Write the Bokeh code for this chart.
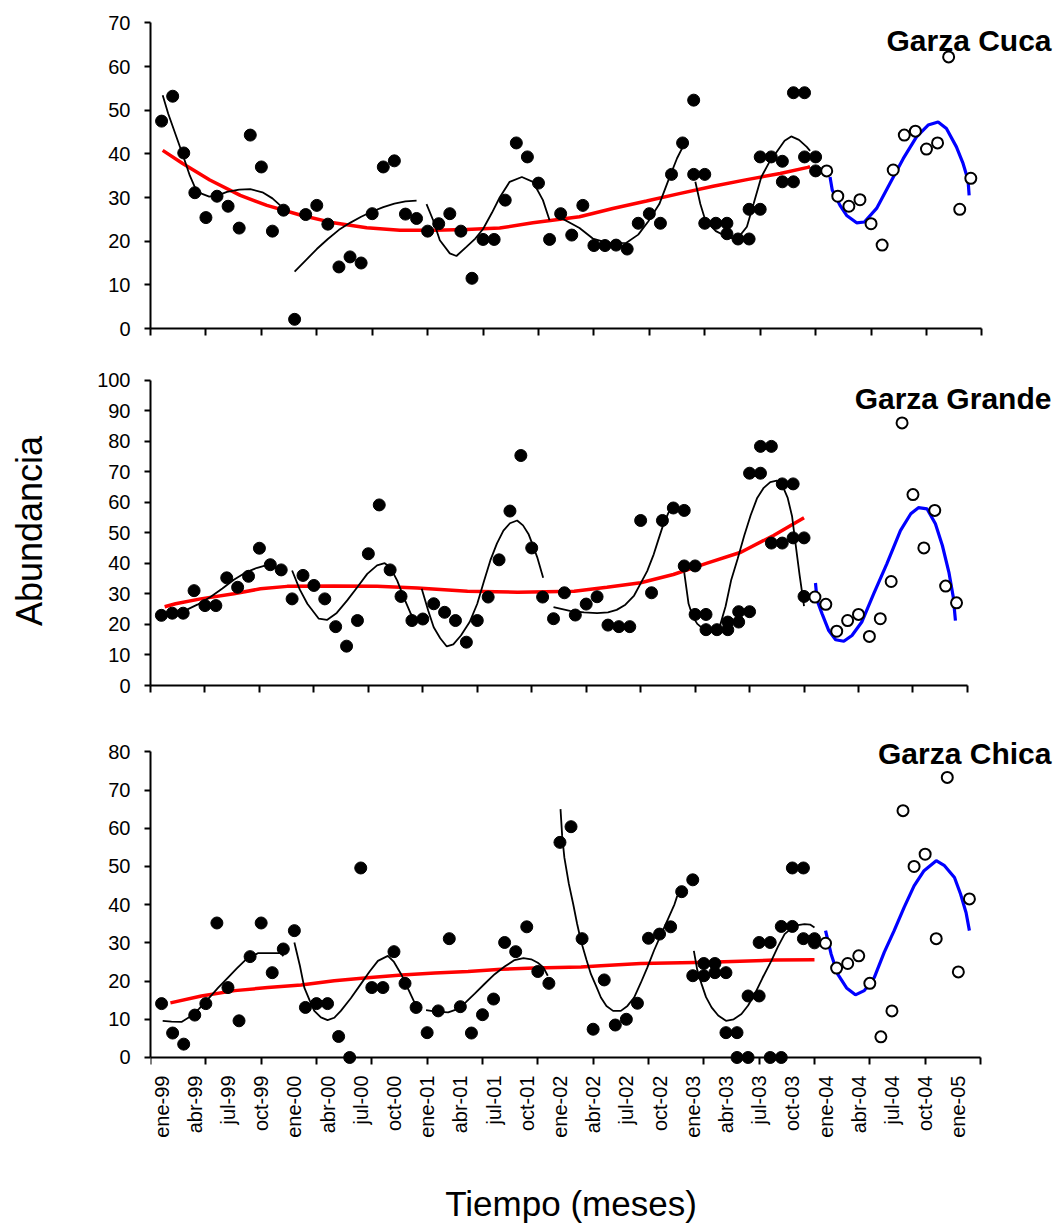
import math
from bokeh.plotting import figure
from bokeh.layouts import column
from bokeh.models import Range1d, FixedTicker, LinearAxis, Label
from bokeh.embed import file_html
from bokeh.resources import INLINE

FONT = "Liberation Sans"

# ---------------- x axis (months since ene-99) ----------------
tick_marks = [-1, 4, 9, 14, 19, 24, 29, 34, 39, 44, 49, 54, 59, 64, 69, 74]
label_months = [0, 3, 6, 9, 12, 15, 18, 21, 24, 27, 30, 33, 36, 39, 42, 45, 48, 51, 54, 57, 60, 63, 66, 69, 72]
tick_labels = ["ene-99", "abr-99", "jul-99", "oct-99", "ene-00", "abr-00", "jul-00", "oct-00",
               "ene-01", "abr-01", "jul-01", "oct-01", "ene-02", "abr-02", "jul-02", "oct-02",
               "ene-03", "abr-03", "jul-03", "oct-03", "ene-04", "abr-04", "jul-04", "oct-04", "ene-05"]

# ---------------- Garza Cuca ----------------
cuca_obs_m = list(range(0, 48)) + [48, 48, 49, 49, 50, 51, 51, 52, 53, 53, 54, 54, 55, 56, 56, 57, 57, 58, 58, 59, 59]
cuca_obs_v = [47.5, 53.2, 40.2, 31.1, 25.4, 30.3, 28.0, 23.0, 44.3, 37.0, 22.3, 27.1,
              2.1, 26.1, 28.2, 23.9, 14.1, 16.4, 15.0, 26.3, 37.0, 38.4, 26.2, 25.2,
              22.3, 24.0, 26.3, 22.3, 11.5, 20.4, 20.4, 29.4, 42.5, 39.3, 33.3, 20.4,
              26.3, 21.4, 28.2, 19.0, 19.0, 19.1, 18.2, 24.1, 26.3, 24.1, 35.3, 42.5,
              52.3, 35.3, 35.3, 24.1, 24.1, 24.1, 21.7, 20.5, 20.5, 27.3, 27.3, 39.3, 39.3,
              38.3, 33.6, 33.6, 54.0, 54.0, 39.3, 39.3, 36.1]
cuca_new_m = list(range(60, 74))
cuca_new_v = [36.1, 30.3, 28.0, 29.5, 24.0, 19.1, 36.3, 44.3, 45.2, 41.1, 42.5, 62.2, 27.3, 34.4]
cuca_fit = [
    ([0.1, 0.6, 1.35, 1.95, 2.55, 3.0, 3.6, 4.3, 5.2, 5.9, 7.0, 8.0, 9.1, 10.0, 10.7],
     [53.4, 49.2, 43.8, 39.5, 35.0, 32.4, 30.9, 30.2, 30.6, 31.3, 31.8, 31.9, 31.2, 29.8, 28.2]),
    ([12.0, 13.0, 14.0, 15.0, 16.0, 17.0, 18.0, 19.0, 20.0, 21.0, 22.0, 23.0],
     [13.0, 15.6, 18.2, 20.5, 22.6, 24.2, 25.6, 26.8, 27.8, 28.6, 29.1, 29.3]),
    ([23.9, 24.5, 25.1, 26.0, 26.6, 27.5, 28.3, 29.0, 29.8, 30.5, 31.4, 32.5, 33.5, 34.4, 35.0],
     [28.5, 24.8, 20.2, 17.2, 16.6, 18.7, 20.6, 22.8, 26.5, 30.0, 33.6, 34.7, 33.6, 29.4, 24.8]),
    ([35.9, 37.0, 37.7, 38.9, 40.4, 41.9, 43.0, 43.9, 44.9, 45.8, 46.5, 47.1],
     [25.5, 24.0, 23.0, 20.6, 19.5, 19.6, 21.5, 24.5, 28.5, 34.5, 39.0, 42.0]),
    ([48.15, 48.6, 49.05, 50.0, 51.0, 51.9, 52.8, 53.4, 54.1, 54.8, 55.5, 56.2, 56.8, 57.5, 58.2, 58.5],
     [33.6, 28.5, 24.8, 22.3, 21.0, 20.4, 23.3, 28.5, 34.7, 38.0, 40.5, 43.0, 44.0, 43.2, 41.6, 40.7]),
]
cuca_trend_m = [0.1, 1.9, 4.35, 7.1, 9.5, 12.5, 15.5, 18.5, 21.5, 24.5, 27.5, 30.5, 33.5, 37.7, 40.7,
                43.75, 46.7, 49.75, 52.8, 55.8, 58.3, 58.5]
cuca_trend_v = [40.8, 37.8, 34.0, 30.5, 28.2, 26.0, 24.2, 23.1, 22.5, 22.5, 22.7, 23.0, 24.2, 25.6, 27.5,
                29.2, 30.9, 32.6, 34.1, 35.5, 36.9, 37.1]
cuca_wave_m = [60.3, 60.5, 61.2, 61.8, 62.7, 63.4, 64.5, 65.7, 66.9, 68.1, 69.15, 70.05, 70.8, 71.7, 72.3, 72.75, 72.85]
cuca_wave_v = [34.7, 31.7, 28.2, 25.9, 24.2, 24.4, 27.5, 33.2, 38.9, 43.9, 46.6, 47.3, 45.8, 41.6, 37.8, 34.0, 30.5]

# ---------------- Garza Grande ----------------
grande_obs_m = list(range(0, 48)) + [48, 48, 49, 49, 50, 50, 51, 52, 52, 53, 53, 54, 54, 55, 55, 56, 56, 57, 57, 58, 58, 59, 59]
grande_obs_v = [23.0, 23.7, 23.7, 31.1, 26.2, 26.2, 35.3, 32.2, 35.8, 45.0, 39.6, 37.9,
                28.4, 36.1, 32.8, 28.4, 19.3, 12.9, 21.3, 43.2, 59.2, 37.9, 29.2, 21.3,
                21.8, 26.8, 24.0, 21.3, 14.2, 21.3, 29.0, 41.2, 57.2, 75.4, 45.1, 29.0,
                21.9, 30.4, 23.1, 26.7, 29.1, 19.8, 19.3, 19.3, 54.1, 30.4, 54.1, 58.2,
                57.4, 39.2, 39.2, 23.3, 23.3, 18.3, 18.3, 18.3, 20.8, 20.8, 24.2, 24.2, 69.6,
                69.6, 78.4, 78.4, 46.7, 46.7, 66.1, 66.1, 48.4, 48.4, 29.2]
grande_new_m = list(range(60, 74))
grande_new_v = [29.0, 26.6, 17.8, 21.3, 23.3, 16.1, 21.9, 34.1, 86.1, 62.6, 45.1, 57.4, 32.6, 27.1]
grande_fit = [
    ([0.2, 1.0, 2.06, 3.3, 4.5, 5.6, 6.65, 7.7, 8.8, 9.9, 10.6, 10.9],
     [23.5, 23.5, 24.4, 26.5, 29.0, 31.8, 34.7, 37.0, 38.6, 39.7, 38.3, 37.3]),
    ([12.0, 12.7, 13.4, 14.45, 15.2, 16.1, 17.06, 18.0, 18.9, 19.8, 20.5, 21.0, 21.65, 22.3, 22.9, 23.3],
     [37.7, 31.5, 26.8, 21.9, 21.5, 23.8, 27.9, 32.3, 36.6, 39.4, 40.1, 38.8, 34.4, 28.5, 23.5, 21.5]),
    ([23.9, 24.5, 25.0, 25.6, 26.2, 26.8, 27.5, 28.3, 29.0, 29.6, 30.2, 30.8, 31.4, 32.0, 32.66, 33.2,
      33.7, 34.1, 34.5, 35.05],
     [31.7, 24.5, 19.1, 15.5, 12.8, 13.5, 16.4, 20.8, 26.8, 34.0, 41.0, 46.5, 50.8, 53.2, 54.1, 52.5,
      49.7, 46.0, 42.1, 35.3]),
    ([36.0, 37.5, 38.8, 40.0, 41.0, 41.8, 42.6, 43.4, 44.0, 44.6, 45.2, 45.6, 46.1, 46.6],
     [25.7, 24.5, 24.0, 23.7, 24.0, 24.8, 26.5, 29.5, 33.5, 37.5, 43.0, 47.5, 53.0, 57.0]),
    ([48.0, 48.4, 48.8, 49.2, 50.1, 50.7, 51.3, 51.8, 52.3, 52.9, 53.5, 54.1, 54.7, 55.3, 55.9, 56.5,
      56.9, 57.5, 57.9, 58.2, 58.6, 59.0],
     [37.1, 26.8, 22.5, 20.2, 17.5, 18.0, 19.8, 26.0, 34.4, 41.5, 49.0, 55.8, 61.5, 64.8, 66.7, 67.2,
      66.5, 61.5, 55.5, 47.0, 36.0, 26.0]),
]
grande_trend_m = [0.3, 1.3, 3.6, 6.65, 9.1, 11.55, 15.8, 19.8, 23.5, 28.1, 32.7, 37.9, 40.9, 44.0,
                  47.0, 50.1, 53.2, 56.2, 59.0]
grande_trend_v = [25.8, 26.8, 28.4, 30.1, 31.7, 32.5, 32.6, 32.5, 32.0, 30.9, 30.6, 30.9, 32.2, 33.7,
                  36.4, 40.1, 43.7, 49.2, 55.0]
grande_wave_m = [60.05, 60.2, 60.66, 61.27, 61.9, 62.65, 63.4, 64.3, 65.4, 66.6, 67.85, 68.8, 69.5,
                 70.3, 71.06, 71.7, 72.3, 72.7, 72.9]
grande_wave_v = [33.6, 27.9, 23.5, 18.0, 15.0, 14.5, 16.4, 20.8, 30.1, 39.9, 50.8, 56.3, 58.3,
                 57.9, 53.0, 45.9, 37.1, 29.0, 21.3]

# ---------------- Garza Chica ----------------
chica_obs_m = list(range(0, 48)) + [48, 48, 49, 49, 50, 50, 51, 51, 52, 52, 53, 53, 54, 54, 55, 55, 56, 56, 57, 57, 58, 58, 59, 59]
chica_obs_v = [14.1, 6.4, 3.5, 11.1, 14.1, 35.2, 18.3, 9.6, 26.4, 35.2, 22.2, 28.4,
               33.2, 13.1, 14.1, 14.1, 5.5, 0.0, 49.6, 18.3, 18.3, 27.7, 19.4, 13.1,
               6.5, 12.2, 31.1, 13.3, 6.4, 11.2, 15.3, 30.1, 27.7, 34.2, 22.5, 19.4,
               56.3, 60.4, 31.1, 7.4, 20.3, 8.5, 10.0, 14.2, 31.2, 32.3, 34.2, 43.4,
               46.5, 21.4, 21.4, 24.6, 24.6, 22.2, 22.2, 6.5, 6.5, 0.0, 0.0, 16.1, 16.1, 30.1,
               30.1, 0.0, 0.0, 34.3, 34.3, 49.6, 49.6, 31.1, 31.1, 30.0]
chica_new_m = list(range(60, 74))
chica_new_v = [29.9, 23.4, 24.6, 26.6, 19.4, 5.4, 12.2, 64.6, 50.0, 53.2, 31.1, 73.3, 22.4, 41.5]
chica_fit = [
    ([0.1, 0.9, 1.8, 2.7, 3.4, 4.2, 5.1, 6.0, 6.8, 7.5, 8.7, 10.8, 11.0],
     [9.6, 9.4, 9.3, 10.9, 12.8, 15.3, 18.2, 20.9, 23.3, 25.3, 27.3, 27.3, 26.5]),
    ([12.0, 12.5, 12.9, 13.4, 13.8, 14.4, 15.0, 15.6, 16.2, 17.1, 18.0, 18.8, 19.55, 20.45, 21.0,
      21.65, 22.3, 22.85, 23.15],
     [30.1, 24.0, 18.3, 14.8, 12.2, 10.5, 9.8, 10.4, 12.2, 15.5, 19.2, 22.5, 25.3, 26.6, 25.0,
      21.8, 17.8, 14.4, 13.0]),
    ([23.9, 24.8, 25.9, 26.8, 27.5, 28.3, 29.2, 30.1, 31.0, 31.9, 32.7, 33.4, 34.0, 34.5, 34.9],
     [12.4, 12.0, 11.8, 12.7, 14.5, 16.7, 19.3, 21.8, 23.8, 25.5, 26.0, 25.7, 24.8, 23.6, 21.4]),
    ([36.05, 36.2, 36.4, 36.8, 37.2, 37.55, 37.9, 38.4, 38.8, 39.3, 39.7, 40.2, 40.8, 41.5, 42.1,
      42.7, 43.3, 43.9, 44.5, 45.15, 45.8, 46.35, 46.6],
     [65.0, 58.0, 52.3, 45.5, 40.1, 35.0, 30.5, 25.5, 21.8, 18.5, 15.7, 13.5, 12.2, 12.2, 13.5,
      15.7, 19.5, 23.6, 28.0, 32.3, 36.5, 40.1, 42.3]),
    ([48.1, 48.4, 48.8, 49.2, 49.7, 50.3, 51.0, 51.7, 52.4, 53.0, 53.6, 54.3, 55.1, 55.7, 56.3,
      57.2, 58.1, 58.6, 59.0],
     [27.9, 23.0, 19.2, 15.8, 13.1, 11.0, 9.6, 10.0, 11.4, 13.6, 16.6, 20.8, 25.3, 29.0, 32.3,
      34.5, 34.9, 34.8, 34.0]),
]
chica_trend_m = [0.8, 3.6, 6.6, 9.6, 12.6, 15.6, 18.6, 21.7, 24.7, 27.7, 30.7, 33.7, 37.9, 39.7,
                 43.3, 49.4, 55.4, 59.0]
chica_trend_v = [14.3, 16.1, 17.5, 18.3, 19.0, 20.1, 20.9, 21.6, 22.1, 22.5, 23.1, 23.4, 23.7, 24.0,
                 24.6, 24.9, 25.5, 25.6]
chica_wave_m = [60.0, 60.5, 61.1, 61.9, 62.7, 63.5, 64.4, 65.3, 66.2, 67.1, 68.0, 68.9, 70.0,
                70.75, 71.65, 72.2, 72.7, 73.0]
chica_wave_v = [33.2, 27.1, 21.8, 18.2, 16.4, 17.5, 20.9, 27.5, 33.2, 39.3, 44.9, 48.9, 51.5,
                50.2, 47.1, 42.8, 37.9, 33.2]


W = 1057
LEFT = 150


def style_axis(ax):
    ax.axis_line_color = "black"
    ax.axis_line_width = 2
    ax.major_tick_line_color = "black"
    ax.major_tick_line_width = 2
    ax.minor_tick_line_color = None
    ax.major_label_text_font = FONT
    ax.major_label_text_color = "black"


def panel(ymax, x_end, y_start, y_end, top, bottom, height, obs_m, obs_v, new_m, new_v,
          fit, trend_m, trend_v, wave_m, wave_v, title, title_x, title_y, with_labels=False,
          ylabel=None):
    p = figure(width=W, height=height, x_range=Range1d(-1, x_end), y_range=Range1d(y_start, y_end),
               output_backend="svg", toolbar_location=None, x_axis_type=None, y_axis_type=None,
               min_border_left=LEFT, min_border_right=0, min_border_top=top,
               min_border_bottom=bottom)
    p.outline_line_color = None
    p.background_fill_color = "white"
    p.border_fill_color = "white"

    ya = LinearAxis(ticker=FixedTicker(ticks=list(range(0, ymax + 1, 10))), bounds=(0, ymax))
    style_axis(ya)
    ya.major_tick_out = 6
    ya.major_tick_in = 0
    ya.major_label_standoff = 14
    ya.major_label_text_font_size = "20px"
    if ylabel:
        ya.axis_label = ylabel
        ya.axis_label_text_font = FONT
        ya.axis_label_text_font_size = "36px"
        ya.axis_label_text_font_style = "normal"
        ya.axis_label_text_color = "black"
        ya.axis_label_standoff = 44
    p.add_layout(ya, "left")

    xa = LinearAxis(ticker=FixedTicker(ticks=tick_marks), bounds=(-1, 74),
                    major_label_overrides={t: "" for t in tick_marks})
    style_axis(xa)
    xa.major_tick_out = 7
    xa.major_tick_in = 0
    xa.major_label_standoff = 0
    xa.major_label_text_font_size = "0px"
    if y_start != 0:
        xa.fixed_location = 0
    p.add_layout(xa, "below")

    if with_labels:
        xb = LinearAxis(ticker=FixedTicker(ticks=label_months), bounds=(-1, 74),
                        major_label_overrides=dict(zip(label_months, tick_labels)))
        style_axis(xb)
        xb.axis_line_color = None
        xb.major_tick_line_color = None
        xb.major_tick_out = 0
        xb.major_tick_in = 0
        xb.major_label_standoff = 10
        xb.major_label_orientation = math.pi / 2
        xb.major_label_text_font_size = "20px"
        p.add_layout(xb, "below")

    p.line(trend_m, trend_v, line_color="#FF0000", line_width=3.5)
    for fm, fv in fit:
        p.line(fm, fv, line_color="black", line_width=1.8)
    p.line(wave_m, wave_v, line_color="#0000FF", line_width=3.2)
    p.scatter(obs_m, obs_v, marker="circle", size=12, fill_color="black", line_color="black")
    p.scatter(new_m, new_v, marker="circle", size=11, fill_color="white", line_color="black",
              line_width=2)

    p.add_layout(Label(x=title_x, y=title_y, text=title, text_align="right",
                       text_baseline="alphabetic", text_font=FONT, text_font_size="30px",
                       text_font_style="bold", text_color="black"))
    return p


p1 = panel(70, 80.82, 0, 71.46, 16, 22, 350, cuca_obs_m, cuca_obs_v, cuca_new_m, cuca_new_v,
           cuca_fit, cuca_trend_m, cuca_trend_v, cuca_wave_m, cuca_wave_v,
           "Garza Cuca", 80.28, 65.96)
p2 = panel(100, 82.27, 0, 101.31, 26, 20, 355, grande_obs_m, grande_obs_v, grande_new_m, grande_new_v,
           grande_fit, grande_trend_m, grande_trend_v, grande_wave_m, grande_wave_v,
           "Garza Grande", 81.71, 94.1, ylabel="Abundancia")
p3 = panel(80, 80.96, -2.094, 85.84, 24, 85, 445, chica_obs_m, chica_obs_v, chica_new_m, chica_new_v,
           chica_fit, chica_trend_m, chica_trend_v, chica_wave_m, chica_wave_v,
           "Garza Chica", 80.41, 79.56, with_labels=True)

# strip below the bottom panel that carries the x-axis title
p4 = figure(width=W, height=74, x_range=Range1d(-1, 80.96), y_range=Range1d(0, 74),
            output_backend="svg", toolbar_location=None, x_axis_type=None, y_axis_type=None,
            min_border_left=LEFT, min_border_right=0, min_border_top=0, min_border_bottom=0)
p4.outline_line_color = None
p4.add_layout(Label(x=37.0, y=21.0, text="Tiempo (meses)", text_align="center",
                    text_baseline="alphabetic", text_font=FONT, text_font_size="35px",
                    text_color="black"))

layout = column(p1, p2, p3, p4, spacing=0)
open("out.html", "w").write(file_html(layout, INLINE))
